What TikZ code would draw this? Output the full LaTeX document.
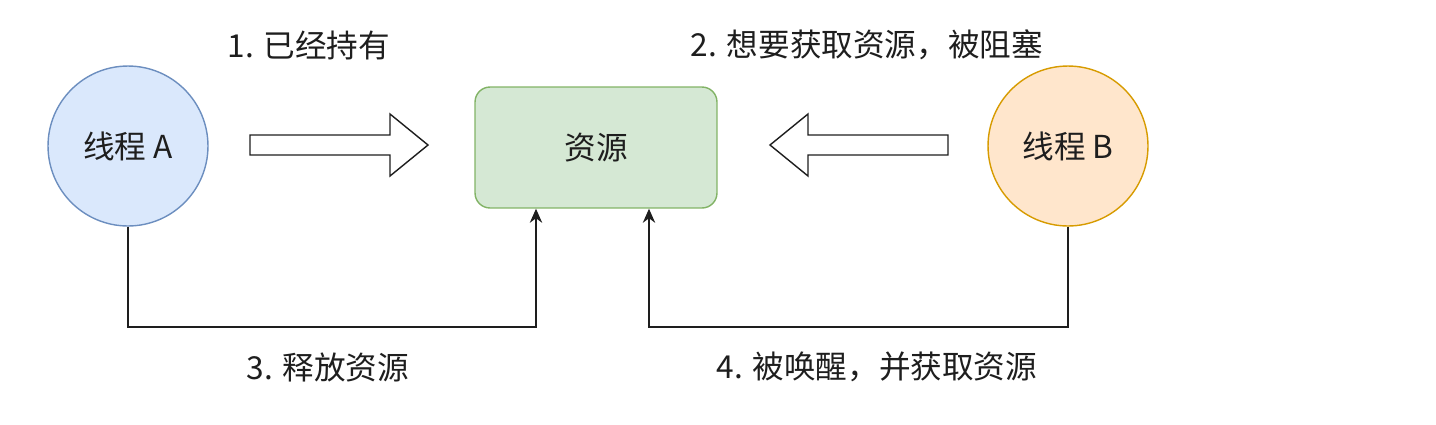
\documentclass[tikz,border=0pt]{standalone}
\usepackage{fontspec}
\setmainfont{Noto Sans CJK SC}
\usetikzlibrary{arrows.meta}

\definecolor{blueFill}{HTML}{DAE8FC}
\definecolor{blueLine}{HTML}{6C8EBF}
\definecolor{orangeFill}{HTML}{FFE6CC}
\definecolor{orangeLine}{HTML}{D79B00}
\definecolor{greenFill}{HTML}{D5E8D4}
\definecolor{greenLine}{HTML}{82B366}
\definecolor{ink}{HTML}{1E1E1E}

\tikzset{
  thread/.style={circle, draw, line width=0.8pt, minimum size=3.2cm, inner sep=0pt, font=\fontsize{18}{22}\selectfont, text=ink},
  resbox/.style={rectangle, rounded corners=0.3cm, draw=greenLine, fill=greenFill, line width=0.8pt, minimum width=4.84cm, minimum height=2.42cm, font=\fontsize{18}{22}\selectfont, text=ink},
  steplabel/.style={font=\fontsize{18}{22}\selectfont, text=ink},
  blockarrow/.style={draw=ink, line width=0.8pt, fill=white, line join=miter},
  flow/.style={draw=ink, line width=1.1pt, -{Stealth[length=8pt, width=7pt]}}
}

\begin{document}
\begin{tikzpicture}[x=0.02cm, y=-0.02cm]
\useasboundingbox (0,0) rectangle (1436,424);
% nodes
\node[thread, draw=blueLine, fill=blueFill] (ta) at (128,146) {线程 A};
\node[thread, draw=orangeLine, fill=orangeFill] (tb) at (1068,146) {线程 B};
\node[resbox] (res) at (596,147.5) {资源};
% labels
\node[steplabel] (l1) at (309,45) {1. 已经持有};
\node[steplabel] (l2) at (867,45) {2. 想要获取资源，被阻塞};
\node[steplabel] (l3) at (328,367) {3. 释放资源};
\node[steplabel] (l4) at (877,367) {4. 被唤醒，并获取资源};
% block arrows
\draw[blockarrow] (250,135) -- (390,135) -- (390,114) -- (428,145) -- (390,176) -- (390,155) -- (250,155) -- cycle;
\draw[blockarrow] (948,135) -- (808,135) -- (808,114) -- (770,145) -- (808,176) -- (808,155) -- (948,155) -- cycle;
% connectors
\coordinate (c3) at (536,327);
\coordinate (c4) at (649,327);
\draw[flow] (ta.south) |- (c3) -- (c3 |- res.south);
\draw[flow] (tb.south) |- (c4) -- (c4 |- res.south);
\end{tikzpicture}
\end{document}
